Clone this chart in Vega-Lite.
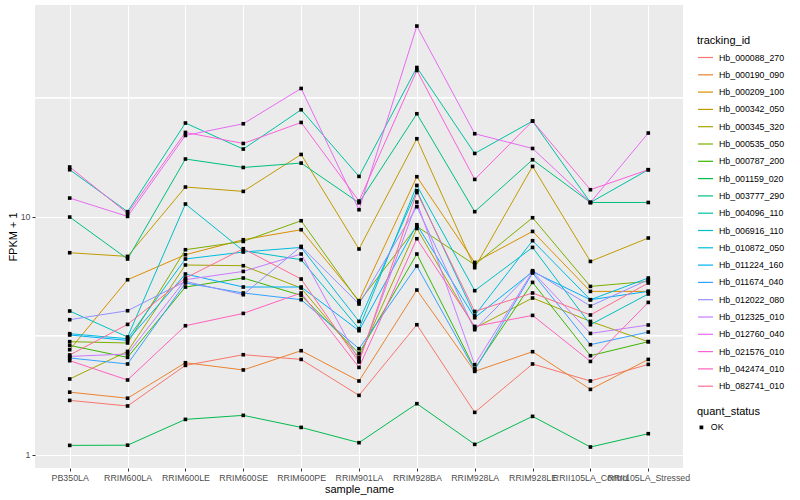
{
  "$schema": "https://vega.github.io/schema/vega-lite/v6.json",
  "width": 648,
  "height": 463,
  "autosize": {"type": "none"},
  "padding": {"left": 35, "top": 5, "right": 117, "bottom": 32},
  "background": "white",
  "config": {
    "font": "Liberation Sans",
    "view": {"fill": "#EBEBEB", "stroke": null},
    "axis": {
      "domain": false, "grid": true, "gridColor": "white", "gridWidth": 1.1,
      "tickColor": "#333333", "tickSize": 3, "tickWidth": 1,
      "labelFont": "Liberation Sans", "labelFontSize": 8.8, "labelColor": "#4D4D4D",
      "titleFont": "Liberation Sans", "titleFontSize": 11, "titleFontWeight": "normal", "titleColor": "black",
      "labelPadding": 2, "titlePadding": 2
    },
    "legend": {
      "titleFont": "Liberation Sans", "titleFontSize": 11, "titleFontWeight": "normal", "titleColor": "black",
      "labelFont": "Liberation Sans", "labelFontSize": 8.8, "labelColor": "black",
      "padding": 0, "rowPadding": 3.3, "labelOffset": 5, "titlePadding": 3
    }
  },
  "data": {"values": [
    {"sample_name":"PB350LA","tracking_id":"Hb_000088_270","FPKM_plus_1":1.691,"quant_status":"OK"},
    {"sample_name":"RRIM600LA","tracking_id":"Hb_000088_270","FPKM_plus_1":1.602,"quant_status":"OK"},
    {"sample_name":"RRIM600LE","tracking_id":"Hb_000088_270","FPKM_plus_1":2.373,"quant_status":"OK"},
    {"sample_name":"RRIM600SE","tracking_id":"Hb_000088_270","FPKM_plus_1":2.631,"quant_status":"OK"},
    {"sample_name":"RRIM600PE","tracking_id":"Hb_000088_270","FPKM_plus_1":2.514,"quant_status":"OK"},
    {"sample_name":"RRIM901LA","tracking_id":"Hb_000088_270","FPKM_plus_1":1.775,"quant_status":"OK"},
    {"sample_name":"RRIM928BA","tracking_id":"Hb_000088_270","FPKM_plus_1":3.517,"quant_status":"OK"},
    {"sample_name":"RRIM928LA","tracking_id":"Hb_000088_270","FPKM_plus_1":1.506,"quant_status":"OK"},
    {"sample_name":"RRIM928LE","tracking_id":"Hb_000088_270","FPKM_plus_1":2.405,"quant_status":"OK"},
    {"sample_name":"RRII105LA_Control","tracking_id":"Hb_000088_270","FPKM_plus_1":2.040,"quant_status":"OK"},
    {"sample_name":"RRII105LA_Stressed","tracking_id":"Hb_000088_270","FPKM_plus_1":2.396,"quant_status":"OK"},

    {"sample_name":"PB350LA","tracking_id":"Hb_000190_090","FPKM_plus_1":1.831,"quant_status":"OK"},
    {"sample_name":"RRIM600LA","tracking_id":"Hb_000190_090","FPKM_plus_1":1.727,"quant_status":"OK"},
    {"sample_name":"RRIM600LE","tracking_id":"Hb_000190_090","FPKM_plus_1":2.435,"quant_status":"OK"},
    {"sample_name":"RRIM600SE","tracking_id":"Hb_000190_090","FPKM_plus_1":2.270,"quant_status":"OK"},
    {"sample_name":"RRIM600PE","tracking_id":"Hb_000190_090","FPKM_plus_1":2.735,"quant_status":"OK"},
    {"sample_name":"RRIM901LA","tracking_id":"Hb_000190_090","FPKM_plus_1":2.040,"quant_status":"OK"},
    {"sample_name":"RRIM928BA","tracking_id":"Hb_000190_090","FPKM_plus_1":4.920,"quant_status":"OK"},
    {"sample_name":"RRIM928LA","tracking_id":"Hb_000190_090","FPKM_plus_1":2.239,"quant_status":"OK"},
    {"sample_name":"RRIM928LE","tracking_id":"Hb_000190_090","FPKM_plus_1":2.709,"quant_status":"OK"},
    {"sample_name":"RRII105LA_Control","tracking_id":"Hb_000190_090","FPKM_plus_1":1.881,"quant_status":"OK"},
    {"sample_name":"RRII105LA_Stressed","tracking_id":"Hb_000190_090","FPKM_plus_1":2.514,"quant_status":"OK"},

    {"sample_name":"PB350LA","tracking_id":"Hb_000209_100","FPKM_plus_1":2.762,"quant_status":"OK"},
    {"sample_name":"RRIM600LA","tracking_id":"Hb_000209_100","FPKM_plus_1":5.436,"quant_status":"OK"},
    {"sample_name":"RRIM600LE","tracking_id":"Hb_000209_100","FPKM_plus_1":6.923,"quant_status":"OK"},
    {"sample_name":"RRIM600SE","tracking_id":"Hb_000209_100","FPKM_plus_1":8.006,"quant_status":"OK"},
    {"sample_name":"RRIM600PE","tracking_id":"Hb_000209_100","FPKM_plus_1":8.818,"quant_status":"OK"},
    {"sample_name":"RRIM901LA","tracking_id":"Hb_000209_100","FPKM_plus_1":4.437,"quant_status":"OK"},
    {"sample_name":"RRIM928BA","tracking_id":"Hb_000209_100","FPKM_plus_1":14.73,"quant_status":"OK"},
    {"sample_name":"RRIM928LA","tracking_id":"Hb_000209_100","FPKM_plus_1":6.427,"quant_status":"OK"},
    {"sample_name":"RRIM928LE","tracking_id":"Hb_000209_100","FPKM_plus_1":8.675,"quant_status":"OK"},
    {"sample_name":"RRII105LA_Control","tracking_id":"Hb_000209_100","FPKM_plus_1":4.856,"quant_status":"OK"},
    {"sample_name":"RRII105LA_Stressed","tracking_id":"Hb_000209_100","FPKM_plus_1":4.856,"quant_status":"OK"},

    {"sample_name":"PB350LA","tracking_id":"Hb_000342_050","FPKM_plus_1":7.059,"quant_status":"OK"},
    {"sample_name":"RRIM600LA","tracking_id":"Hb_000342_050","FPKM_plus_1":6.811,"quant_status":"OK"},
    {"sample_name":"RRIM600LE","tracking_id":"Hb_000342_050","FPKM_plus_1":13.33,"quant_status":"OK"},
    {"sample_name":"RRIM600SE","tracking_id":"Hb_000342_050","FPKM_plus_1":12.78,"quant_status":"OK"},
    {"sample_name":"RRIM600PE","tracking_id":"Hb_000342_050","FPKM_plus_1":18.27,"quant_status":"OK"},
    {"sample_name":"RRIM901LA","tracking_id":"Hb_000342_050","FPKM_plus_1":7.317,"quant_status":"OK"},
    {"sample_name":"RRIM928BA","tracking_id":"Hb_000342_050","FPKM_plus_1":21.27,"quant_status":"OK"},
    {"sample_name":"RRIM928LA","tracking_id":"Hb_000342_050","FPKM_plus_1":6.107,"quant_status":"OK"},
    {"sample_name":"RRIM928LE","tracking_id":"Hb_000342_050","FPKM_plus_1":16.27,"quant_status":"OK"},
    {"sample_name":"RRII105LA_Control","tracking_id":"Hb_000342_050","FPKM_plus_1":6.490,"quant_status":"OK"},
    {"sample_name":"RRII105LA_Stressed","tracking_id":"Hb_000342_050","FPKM_plus_1":8.139,"quant_status":"OK"},

    {"sample_name":"PB350LA","tracking_id":"Hb_000345_320","FPKM_plus_1":2.080,"quant_status":"OK"},
    {"sample_name":"RRIM600LA","tracking_id":"Hb_000345_320","FPKM_plus_1":2.716,"quant_status":"OK"},
    {"sample_name":"RRIM600LE","tracking_id":"Hb_000345_320","FPKM_plus_1":6.268,"quant_status":"OK"},
    {"sample_name":"RRIM600SE","tracking_id":"Hb_000345_320","FPKM_plus_1":6.225,"quant_status":"OK"},
    {"sample_name":"RRIM600PE","tracking_id":"Hb_000345_320","FPKM_plus_1":5.016,"quant_status":"OK"},
    {"sample_name":"RRIM901LA","tracking_id":"Hb_000345_320","FPKM_plus_1":2.564,"quant_status":"OK"},
    {"sample_name":"RRIM928BA","tracking_id":"Hb_000345_320","FPKM_plus_1":8.929,"quant_status":"OK"},
    {"sample_name":"RRIM928LA","tracking_id":"Hb_000345_320","FPKM_plus_1":3.407,"quant_status":"OK"},
    {"sample_name":"RRIM928LE","tracking_id":"Hb_000345_320","FPKM_plus_1":4.554,"quant_status":"OK"},
    {"sample_name":"RRII105LA_Control","tracking_id":"Hb_000345_320","FPKM_plus_1":3.632,"quant_status":"OK"},
    {"sample_name":"RRII105LA_Stressed","tracking_id":"Hb_000345_320","FPKM_plus_1":2.985,"quant_status":"OK"},

    {"sample_name":"PB350LA","tracking_id":"Hb_000535_050","FPKM_plus_1":2.985,"quant_status":"OK"},
    {"sample_name":"RRIM600LA","tracking_id":"Hb_000535_050","FPKM_plus_1":2.947,"quant_status":"OK"},
    {"sample_name":"RRIM600LE","tracking_id":"Hb_000535_050","FPKM_plus_1":7.267,"quant_status":"OK"},
    {"sample_name":"RRIM600SE","tracking_id":"Hb_000535_050","FPKM_plus_1":7.875,"quant_status":"OK"},
    {"sample_name":"RRIM600PE","tracking_id":"Hb_000535_050","FPKM_plus_1":9.620,"quant_status":"OK"},
    {"sample_name":"RRIM901LA","tracking_id":"Hb_000535_050","FPKM_plus_1":4.381,"quant_status":"OK"},
    {"sample_name":"RRIM928BA","tracking_id":"Hb_000535_050","FPKM_plus_1":9.104,"quant_status":"OK"},
    {"sample_name":"RRIM928LA","tracking_id":"Hb_000535_050","FPKM_plus_1":6.285,"quant_status":"OK"},
    {"sample_name":"RRIM928LE","tracking_id":"Hb_000535_050","FPKM_plus_1":9.904,"quant_status":"OK"},
    {"sample_name":"RRII105LA_Control","tracking_id":"Hb_000535_050","FPKM_plus_1":5.095,"quant_status":"OK"},
    {"sample_name":"RRII105LA_Stressed","tracking_id":"Hb_000535_050","FPKM_plus_1":5.349,"quant_status":"OK"},

    {"sample_name":"PB350LA","tracking_id":"Hb_000787_200","FPKM_plus_1":2.879,"quant_status":"OK"},
    {"sample_name":"RRIM600LA","tracking_id":"Hb_000787_200","FPKM_plus_1":2.564,"quant_status":"OK"},
    {"sample_name":"RRIM600LE","tracking_id":"Hb_000787_200","FPKM_plus_1":5.065,"quant_status":"OK"},
    {"sample_name":"RRIM600SE","tracking_id":"Hb_000787_200","FPKM_plus_1":5.526,"quant_status":"OK"},
    {"sample_name":"RRIM600PE","tracking_id":"Hb_000787_200","FPKM_plus_1":4.670,"quant_status":"OK"},
    {"sample_name":"RRIM901LA","tracking_id":"Hb_000787_200","FPKM_plus_1":2.665,"quant_status":"OK"},
    {"sample_name":"RRIM928BA","tracking_id":"Hb_000787_200","FPKM_plus_1":6.971,"quant_status":"OK"},
    {"sample_name":"RRIM928LA","tracking_id":"Hb_000787_200","FPKM_plus_1":2.298,"quant_status":"OK"},
    {"sample_name":"RRIM928LE","tracking_id":"Hb_000787_200","FPKM_plus_1":5.297,"quant_status":"OK"},
    {"sample_name":"RRII105LA_Control","tracking_id":"Hb_000787_200","FPKM_plus_1":2.606,"quant_status":"OK"},
    {"sample_name":"RRII105LA_Stressed","tracking_id":"Hb_000787_200","FPKM_plus_1":2.985,"quant_status":"OK"},

    {"sample_name":"PB350LA","tracking_id":"Hb_001159_020","FPKM_plus_1":1.094,"quant_status":"OK"},
    {"sample_name":"RRIM600LA","tracking_id":"Hb_001159_020","FPKM_plus_1":1.096,"quant_status":"OK"},
    {"sample_name":"RRIM600LE","tracking_id":"Hb_001159_020","FPKM_plus_1":1.407,"quant_status":"OK"},
    {"sample_name":"RRIM600SE","tracking_id":"Hb_001159_020","FPKM_plus_1":1.463,"quant_status":"OK"},
    {"sample_name":"RRIM600PE","tracking_id":"Hb_001159_020","FPKM_plus_1":1.302,"quant_status":"OK"},
    {"sample_name":"RRIM901LA","tracking_id":"Hb_001159_020","FPKM_plus_1":1.123,"quant_status":"OK"},
    {"sample_name":"RRIM928BA","tracking_id":"Hb_001159_020","FPKM_plus_1":1.638,"quant_status":"OK"},
    {"sample_name":"RRIM928LA","tracking_id":"Hb_001159_020","FPKM_plus_1":1.105,"quant_status":"OK"},
    {"sample_name":"RRIM928LE","tracking_id":"Hb_001159_020","FPKM_plus_1":1.449,"quant_status":"OK"},
    {"sample_name":"RRII105LA_Control","tracking_id":"Hb_001159_020","FPKM_plus_1":1.077,"quant_status":"OK"},
    {"sample_name":"RRII105LA_Stressed","tracking_id":"Hb_001159_020","FPKM_plus_1":1.225,"quant_status":"OK"},

    {"sample_name":"PB350LA","tracking_id":"Hb_003777_290","FPKM_plus_1":9.970,"quant_status":"OK"},
    {"sample_name":"RRIM600LA","tracking_id":"Hb_003777_290","FPKM_plus_1":6.643,"quant_status":"OK"},
    {"sample_name":"RRIM600LE","tracking_id":"Hb_003777_290","FPKM_plus_1":17.48,"quant_status":"OK"},
    {"sample_name":"RRIM600SE","tracking_id":"Hb_003777_290","FPKM_plus_1":16.11,"quant_status":"OK"},
    {"sample_name":"RRIM600PE","tracking_id":"Hb_003777_290","FPKM_plus_1":16.81,"quant_status":"OK"},
    {"sample_name":"RRIM901LA","tracking_id":"Hb_003777_290","FPKM_plus_1":11.45,"quant_status":"OK"},
    {"sample_name":"RRIM928BA","tracking_id":"Hb_003777_290","FPKM_plus_1":27.09,"quant_status":"OK"},
    {"sample_name":"RRIM928LA","tracking_id":"Hb_003777_290","FPKM_plus_1":10.50,"quant_status":"OK"},
    {"sample_name":"RRIM928LE","tracking_id":"Hb_003777_290","FPKM_plus_1":17.36,"quant_status":"OK"},
    {"sample_name":"RRII105LA_Control","tracking_id":"Hb_003777_290","FPKM_plus_1":11.48,"quant_status":"OK"},
    {"sample_name":"RRII105LA_Stressed","tracking_id":"Hb_003777_290","FPKM_plus_1":11.48,"quant_status":"OK"},

    {"sample_name":"PB350LA","tracking_id":"Hb_004096_110","FPKM_plus_1":15.76,"quant_status":"OK"},
    {"sample_name":"RRIM600LA","tracking_id":"Hb_004096_110","FPKM_plus_1":10.50,"quant_status":"OK"},
    {"sample_name":"RRIM600LE","tracking_id":"Hb_004096_110","FPKM_plus_1":24.76,"quant_status":"OK"},
    {"sample_name":"RRIM600SE","tracking_id":"Hb_004096_110","FPKM_plus_1":19.25,"quant_status":"OK"},
    {"sample_name":"RRIM600PE","tracking_id":"Hb_004096_110","FPKM_plus_1":28.16,"quant_status":"OK"},
    {"sample_name":"RRIM901LA","tracking_id":"Hb_004096_110","FPKM_plus_1":14.77,"quant_status":"OK"},
    {"sample_name":"RRIM928BA","tracking_id":"Hb_004096_110","FPKM_plus_1":42.39,"quant_status":"OK"},
    {"sample_name":"RRIM928LA","tracking_id":"Hb_004096_110","FPKM_plus_1":18.45,"quant_status":"OK"},
    {"sample_name":"RRIM928LE","tracking_id":"Hb_004096_110","FPKM_plus_1":25.24,"quant_status":"OK"},
    {"sample_name":"RRII105LA_Control","tracking_id":"Hb_004096_110","FPKM_plus_1":11.48,"quant_status":"OK"},
    {"sample_name":"RRII105LA_Stressed","tracking_id":"Hb_004096_110","FPKM_plus_1":15.76,"quant_status":"OK"},

    {"sample_name":"PB350LA","tracking_id":"Hb_006916_110","FPKM_plus_1":4.016,"quant_status":"OK"},
    {"sample_name":"RRIM600LA","tracking_id":"Hb_006916_110","FPKM_plus_1":3.123,"quant_status":"OK"},
    {"sample_name":"RRIM600LE","tracking_id":"Hb_006916_110","FPKM_plus_1":11.31,"quant_status":"OK"},
    {"sample_name":"RRIM600SE","tracking_id":"Hb_006916_110","FPKM_plus_1":7.197,"quant_status":"OK"},
    {"sample_name":"RRIM600PE","tracking_id":"Hb_006916_110","FPKM_plus_1":6.597,"quant_status":"OK"},
    {"sample_name":"RRIM901LA","tracking_id":"Hb_006916_110","FPKM_plus_1":3.383,"quant_status":"OK"},
    {"sample_name":"RRIM928BA","tracking_id":"Hb_006916_110","FPKM_plus_1":13.54,"quant_status":"OK"},
    {"sample_name":"RRIM928LA","tracking_id":"Hb_006916_110","FPKM_plus_1":4.889,"quant_status":"OK"},
    {"sample_name":"RRIM928LE","tracking_id":"Hb_006916_110","FPKM_plus_1":7.431,"quant_status":"OK"},
    {"sample_name":"RRII105LA_Control","tracking_id":"Hb_006916_110","FPKM_plus_1":3.517,"quant_status":"OK"},
    {"sample_name":"RRII105LA_Stressed","tracking_id":"Hb_006916_110","FPKM_plus_1":4.735,"quant_status":"OK"},

    {"sample_name":"PB350LA","tracking_id":"Hb_010872_050","FPKM_plus_1":3.224,"quant_status":"OK"},
    {"sample_name":"RRIM600LA","tracking_id":"Hb_010872_050","FPKM_plus_1":3.072,"quant_status":"OK"},
    {"sample_name":"RRIM600LE","tracking_id":"Hb_010872_050","FPKM_plus_1":6.643,"quant_status":"OK"},
    {"sample_name":"RRIM600SE","tracking_id":"Hb_010872_050","FPKM_plus_1":7.107,"quant_status":"OK"},
    {"sample_name":"RRIM600PE","tracking_id":"Hb_010872_050","FPKM_plus_1":7.431,"quant_status":"OK"},
    {"sample_name":"RRIM901LA","tracking_id":"Hb_010872_050","FPKM_plus_1":3.632,"quant_status":"OK"},
    {"sample_name":"RRIM928BA","tracking_id":"Hb_010872_050","FPKM_plus_1":12.86,"quant_status":"OK"},
    {"sample_name":"RRIM928LA","tracking_id":"Hb_010872_050","FPKM_plus_1":3.849,"quant_status":"OK"},
    {"sample_name":"RRIM928LE","tracking_id":"Hb_010872_050","FPKM_plus_1":7.930,"quant_status":"OK"},
    {"sample_name":"RRII105LA_Control","tracking_id":"Hb_010872_050","FPKM_plus_1":4.479,"quant_status":"OK"},
    {"sample_name":"RRII105LA_Stressed","tracking_id":"Hb_010872_050","FPKM_plus_1":5.526,"quant_status":"OK"},

    {"sample_name":"PB350LA","tracking_id":"Hb_011224_160","FPKM_plus_1":3.184,"quant_status":"OK"},
    {"sample_name":"RRIM600LA","tracking_id":"Hb_011224_160","FPKM_plus_1":3.022,"quant_status":"OK"},
    {"sample_name":"RRIM600LE","tracking_id":"Hb_011224_160","FPKM_plus_1":5.744,"quant_status":"OK"},
    {"sample_name":"RRIM600SE","tracking_id":"Hb_011224_160","FPKM_plus_1":5.065,"quant_status":"OK"},
    {"sample_name":"RRIM600PE","tracking_id":"Hb_011224_160","FPKM_plus_1":5.065,"quant_status":"OK"},
    {"sample_name":"RRIM901LA","tracking_id":"Hb_011224_160","FPKM_plus_1":3.319,"quant_status":"OK"},
    {"sample_name":"RRIM928BA","tracking_id":"Hb_011224_160","FPKM_plus_1":9.256,"quant_status":"OK"},
    {"sample_name":"RRIM928LA","tracking_id":"Hb_011224_160","FPKM_plus_1":3.764,"quant_status":"OK"},
    {"sample_name":"RRIM928LE","tracking_id":"Hb_011224_160","FPKM_plus_1":5.874,"quant_status":"OK"},
    {"sample_name":"RRII105LA_Control","tracking_id":"Hb_011224_160","FPKM_plus_1":4.479,"quant_status":"OK"},
    {"sample_name":"RRII105LA_Stressed","tracking_id":"Hb_011224_160","FPKM_plus_1":4.856,"quant_status":"OK"},

    {"sample_name":"PB350LA","tracking_id":"Hb_011674_040","FPKM_plus_1":2.549,"quant_status":"OK"},
    {"sample_name":"RRIM600LA","tracking_id":"Hb_011674_040","FPKM_plus_1":2.405,"quant_status":"OK"},
    {"sample_name":"RRIM600LE","tracking_id":"Hb_011674_040","FPKM_plus_1":5.266,"quant_status":"OK"},
    {"sample_name":"RRIM600SE","tracking_id":"Hb_011674_040","FPKM_plus_1":4.781,"quant_status":"OK"},
    {"sample_name":"RRIM600PE","tracking_id":"Hb_011674_040","FPKM_plus_1":4.479,"quant_status":"OK"},
    {"sample_name":"RRIM901LA","tracking_id":"Hb_011674_040","FPKM_plus_1":2.789,"quant_status":"OK"},
    {"sample_name":"RRIM928BA","tracking_id":"Hb_011674_040","FPKM_plus_1":6.207,"quant_status":"OK"},
    {"sample_name":"RRIM928LA","tracking_id":"Hb_011674_040","FPKM_plus_1":2.270,"quant_status":"OK"},
    {"sample_name":"RRIM928LE","tracking_id":"Hb_011674_040","FPKM_plus_1":5.800,"quant_status":"OK"},
    {"sample_name":"RRII105LA_Control","tracking_id":"Hb_011674_040","FPKM_plus_1":2.899,"quant_status":"OK"},
    {"sample_name":"RRII105LA_Stressed","tracking_id":"Hb_011674_040","FPKM_plus_1":3.277,"quant_status":"OK"},

    {"sample_name":"PB350LA","tracking_id":"Hb_012022_080","FPKM_plus_1":3.692,"quant_status":"OK"},
    {"sample_name":"RRIM600LA","tracking_id":"Hb_012022_080","FPKM_plus_1":4.027,"quant_status":"OK"},
    {"sample_name":"RRIM600LE","tracking_id":"Hb_012022_080","FPKM_plus_1":5.349,"quant_status":"OK"},
    {"sample_name":"RRIM600SE","tracking_id":"Hb_012022_080","FPKM_plus_1":4.702,"quant_status":"OK"},
    {"sample_name":"RRIM600PE","tracking_id":"Hb_012022_080","FPKM_plus_1":7.504,"quant_status":"OK"},
    {"sample_name":"RRIM901LA","tracking_id":"Hb_012022_080","FPKM_plus_1":4.297,"quant_status":"OK"},
    {"sample_name":"RRIM928BA","tracking_id":"Hb_012022_080","FPKM_plus_1":11.02,"quant_status":"OK"},
    {"sample_name":"RRIM928LA","tracking_id":"Hb_012022_080","FPKM_plus_1":3.351,"quant_status":"OK"},
    {"sample_name":"RRIM928LE","tracking_id":"Hb_012022_080","FPKM_plus_1":5.932,"quant_status":"OK"},
    {"sample_name":"RRII105LA_Control","tracking_id":"Hb_012022_080","FPKM_plus_1":4.215,"quant_status":"OK"},
    {"sample_name":"RRII105LA_Stressed","tracking_id":"Hb_012022_080","FPKM_plus_1":5.436,"quant_status":"OK"},

    {"sample_name":"PB350LA","tracking_id":"Hb_012325_010","FPKM_plus_1":2.588,"quant_status":"OK"},
    {"sample_name":"RRIM600LA","tracking_id":"Hb_012325_010","FPKM_plus_1":2.649,"quant_status":"OK"},
    {"sample_name":"RRIM600LE","tracking_id":"Hb_012325_010","FPKM_plus_1":5.436,"quant_status":"OK"},
    {"sample_name":"RRIM600SE","tracking_id":"Hb_012325_010","FPKM_plus_1":5.892,"quant_status":"OK"},
    {"sample_name":"RRIM600PE","tracking_id":"Hb_012325_010","FPKM_plus_1":6.971,"quant_status":"OK"},
    {"sample_name":"RRIM901LA","tracking_id":"Hb_012325_010","FPKM_plus_1":2.483,"quant_status":"OK"},
    {"sample_name":"RRIM928BA","tracking_id":"Hb_012325_010","FPKM_plus_1":11.53,"quant_status":"OK"},
    {"sample_name":"RRIM928LA","tracking_id":"Hb_012325_010","FPKM_plus_1":2.388,"quant_status":"OK"},
    {"sample_name":"RRIM928LE","tracking_id":"Hb_012325_010","FPKM_plus_1":5.874,"quant_status":"OK"},
    {"sample_name":"RRII105LA_Control","tracking_id":"Hb_012325_010","FPKM_plus_1":3.233,"quant_status":"OK"},
    {"sample_name":"RRII105LA_Stressed","tracking_id":"Hb_012325_010","FPKM_plus_1":3.507,"quant_status":"OK"},

    {"sample_name":"PB350LA","tracking_id":"Hb_012760_040","FPKM_plus_1":11.98,"quant_status":"OK"},
    {"sample_name":"RRIM600LA","tracking_id":"Hb_012760_040","FPKM_plus_1":10.03,"quant_status":"OK"},
    {"sample_name":"RRIM600LE","tracking_id":"Hb_012760_040","FPKM_plus_1":21.96,"quant_status":"OK"},
    {"sample_name":"RRIM600SE","tracking_id":"Hb_012760_040","FPKM_plus_1":24.59,"quant_status":"OK"},
    {"sample_name":"RRIM600PE","tracking_id":"Hb_012760_040","FPKM_plus_1":34.60,"quant_status":"OK"},
    {"sample_name":"RRIM901LA","tracking_id":"Hb_012760_040","FPKM_plus_1":10.70,"quant_status":"OK"},
    {"sample_name":"RRIM928BA","tracking_id":"Hb_012760_040","FPKM_plus_1":63.29,"quant_status":"OK"},
    {"sample_name":"RRIM928LA","tracking_id":"Hb_012760_040","FPKM_plus_1":22.33,"quant_status":"OK"},
    {"sample_name":"RRIM928LE","tracking_id":"Hb_012760_040","FPKM_plus_1":19.36,"quant_status":"OK"},
    {"sample_name":"RRII105LA_Control","tracking_id":"Hb_012760_040","FPKM_plus_1":11.48,"quant_status":"OK"},
    {"sample_name":"RRII105LA_Stressed","tracking_id":"Hb_012760_040","FPKM_plus_1":22.48,"quant_status":"OK"},

    {"sample_name":"PB350LA","tracking_id":"Hb_021576_010","FPKM_plus_1":16.18,"quant_status":"OK"},
    {"sample_name":"RRIM600LA","tracking_id":"Hb_021576_010","FPKM_plus_1":10.33,"quant_status":"OK"},
    {"sample_name":"RRIM600LE","tracking_id":"Hb_021576_010","FPKM_plus_1":22.61,"quant_status":"OK"},
    {"sample_name":"RRIM600SE","tracking_id":"Hb_021576_010","FPKM_plus_1":20.32,"quant_status":"OK"},
    {"sample_name":"RRIM600PE","tracking_id":"Hb_021576_010","FPKM_plus_1":24.90,"quant_status":"OK"},
    {"sample_name":"RRIM901LA","tracking_id":"Hb_021576_010","FPKM_plus_1":11.64,"quant_status":"OK"},
    {"sample_name":"RRIM928BA","tracking_id":"Hb_021576_010","FPKM_plus_1":41.18,"quant_status":"OK"},
    {"sample_name":"RRIM928LA","tracking_id":"Hb_021576_010","FPKM_plus_1":14.35,"quant_status":"OK"},
    {"sample_name":"RRIM928LE","tracking_id":"Hb_021576_010","FPKM_plus_1":25.24,"quant_status":"OK"},
    {"sample_name":"RRII105LA_Control","tracking_id":"Hb_021576_010","FPKM_plus_1":12.99,"quant_status":"OK"},
    {"sample_name":"RRII105LA_Stressed","tracking_id":"Hb_021576_010","FPKM_plus_1":15.76,"quant_status":"OK"},

    {"sample_name":"PB350LA","tracking_id":"Hb_042474_010","FPKM_plus_1":2.483,"quant_status":"OK"},
    {"sample_name":"RRIM600LA","tracking_id":"Hb_042474_010","FPKM_plus_1":2.060,"quant_status":"OK"},
    {"sample_name":"RRIM600LE","tracking_id":"Hb_042474_010","FPKM_plus_1":3.483,"quant_status":"OK"},
    {"sample_name":"RRIM600SE","tracking_id":"Hb_042474_010","FPKM_plus_1":3.924,"quant_status":"OK"},
    {"sample_name":"RRIM600PE","tracking_id":"Hb_042474_010","FPKM_plus_1":4.781,"quant_status":"OK"},
    {"sample_name":"RRIM901LA","tracking_id":"Hb_042474_010","FPKM_plus_1":2.327,"quant_status":"OK"},
    {"sample_name":"RRIM928BA","tracking_id":"Hb_042474_010","FPKM_plus_1":8.084,"quant_status":"OK"},
    {"sample_name":"RRIM928LA","tracking_id":"Hb_042474_010","FPKM_plus_1":3.460,"quant_status":"OK"},
    {"sample_name":"RRIM928LE","tracking_id":"Hb_042474_010","FPKM_plus_1":3.849,"quant_status":"OK"},
    {"sample_name":"RRII105LA_Control","tracking_id":"Hb_042474_010","FPKM_plus_1":2.466,"quant_status":"OK"},
    {"sample_name":"RRII105LA_Stressed","tracking_id":"Hb_042474_010","FPKM_plus_1":4.364,"quant_status":"OK"},

    {"sample_name":"PB350LA","tracking_id":"Hb_082741_010","FPKM_plus_1":2.624,"quant_status":"OK"},
    {"sample_name":"RRIM600LA","tracking_id":"Hb_082741_010","FPKM_plus_1":3.528,"quant_status":"OK"},
    {"sample_name":"RRIM600LE","tracking_id":"Hb_082741_010","FPKM_plus_1":5.526,"quant_status":"OK"},
    {"sample_name":"RRIM600SE","tracking_id":"Hb_082741_010","FPKM_plus_1":7.338,"quant_status":"OK"},
    {"sample_name":"RRIM600PE","tracking_id":"Hb_082741_010","FPKM_plus_1":5.473,"quant_status":"OK"},
    {"sample_name":"RRIM901LA","tracking_id":"Hb_082741_010","FPKM_plus_1":2.452,"quant_status":"OK"},
    {"sample_name":"RRIM928BA","tracking_id":"Hb_082741_010","FPKM_plus_1":12.65,"quant_status":"OK"},
    {"sample_name":"RRIM928LA","tracking_id":"Hb_082741_010","FPKM_plus_1":4.000,"quant_status":"OK"},
    {"sample_name":"RRIM928LE","tracking_id":"Hb_082741_010","FPKM_plus_1":4.781,"quant_status":"OK"},
    {"sample_name":"RRII105LA_Control","tracking_id":"Hb_082741_010","FPKM_plus_1":3.864,"quant_status":"OK"},
    {"sample_name":"RRII105LA_Stressed","tracking_id":"Hb_082741_010","FPKM_plus_1":5.266,"quant_status":"OK"}
  ]},
  "layer": [
    {
      "mark": {"type": "rule", "color": "white", "strokeWidth": 0.55},
      "encoding": {"y": {"datum": 3.1623, "type": "quantitative", "title": "FPKM + 1"}}
    },
    {
      "mark": {"type": "rule", "color": "white", "strokeWidth": 0.55},
      "encoding": {"y": {"datum": 31.623, "type": "quantitative", "title": "FPKM + 1"}}
    },
    {
      "mark": {"type": "line", "strokeWidth": 1},
      "encoding": {
        "x": {"field": "sample_name", "type": "nominal", "title": "sample_name",
              "scale": {"type": "point", "padding": 0.6, "domain": ["PB350LA","RRIM600LA","RRIM600LE","RRIM600SE","RRIM600PE","RRIM901LA","RRIM928BA","RRIM928LA","RRIM928LE","RRII105LA_Control","RRII105LA_Stressed"]},
              "axis": {"labelAngle": 0, "labelOverlap": false, "labelBound": false}},
        "y": {"field": "FPKM_plus_1", "type": "quantitative", "title": "FPKM + 1",
              "scale": {"type": "log", "domain": [0.879, 77.6], "nice": false, "zero": false},
              "axis": {"values": [1, 10], "format": ".0f"}},
        "color": {"field": "tracking_id", "type": "nominal", "title": "tracking_id",
                  "scale": {"range": ["#F8766D","#EA8331","#D89000","#C09B00","#A3A500","#7CAE00","#39B600","#00BB4E","#00BF7D","#00C1A3","#00BFC4","#00BAE0","#00B0F6","#35A2FF","#9590FF","#C77CFF","#E76BF3","#FA62DB","#FF62BC","#FF6C91"]},
                  "legend": {"orient": "none", "legendX": 662, "legendY": 30, "symbolType": "stroke", "symbolSize": 225, "symbolStrokeWidth": 1.2}}
      }
    },
    {
      "mark": {"type": "point", "filled": true, "size": 13, "opacity": 1, "color": "black"},
      "encoding": {
        "x": {"field": "sample_name", "type": "nominal", "title": "sample_name"},
        "y": {"field": "FPKM_plus_1", "type": "quantitative", "title": "FPKM + 1"},
        "shape": {"field": "quant_status", "type": "nominal", "title": "quant_status",
                  "scale": {"range": ["square"]},
                  "legend": {"orient": "none", "legendX": 662, "legendY": 401, "titlePadding": 6, "symbolFillColor": "black", "symbolStrokeColor": "black", "symbolSize": 14}}
      }
    }
  ]
}
